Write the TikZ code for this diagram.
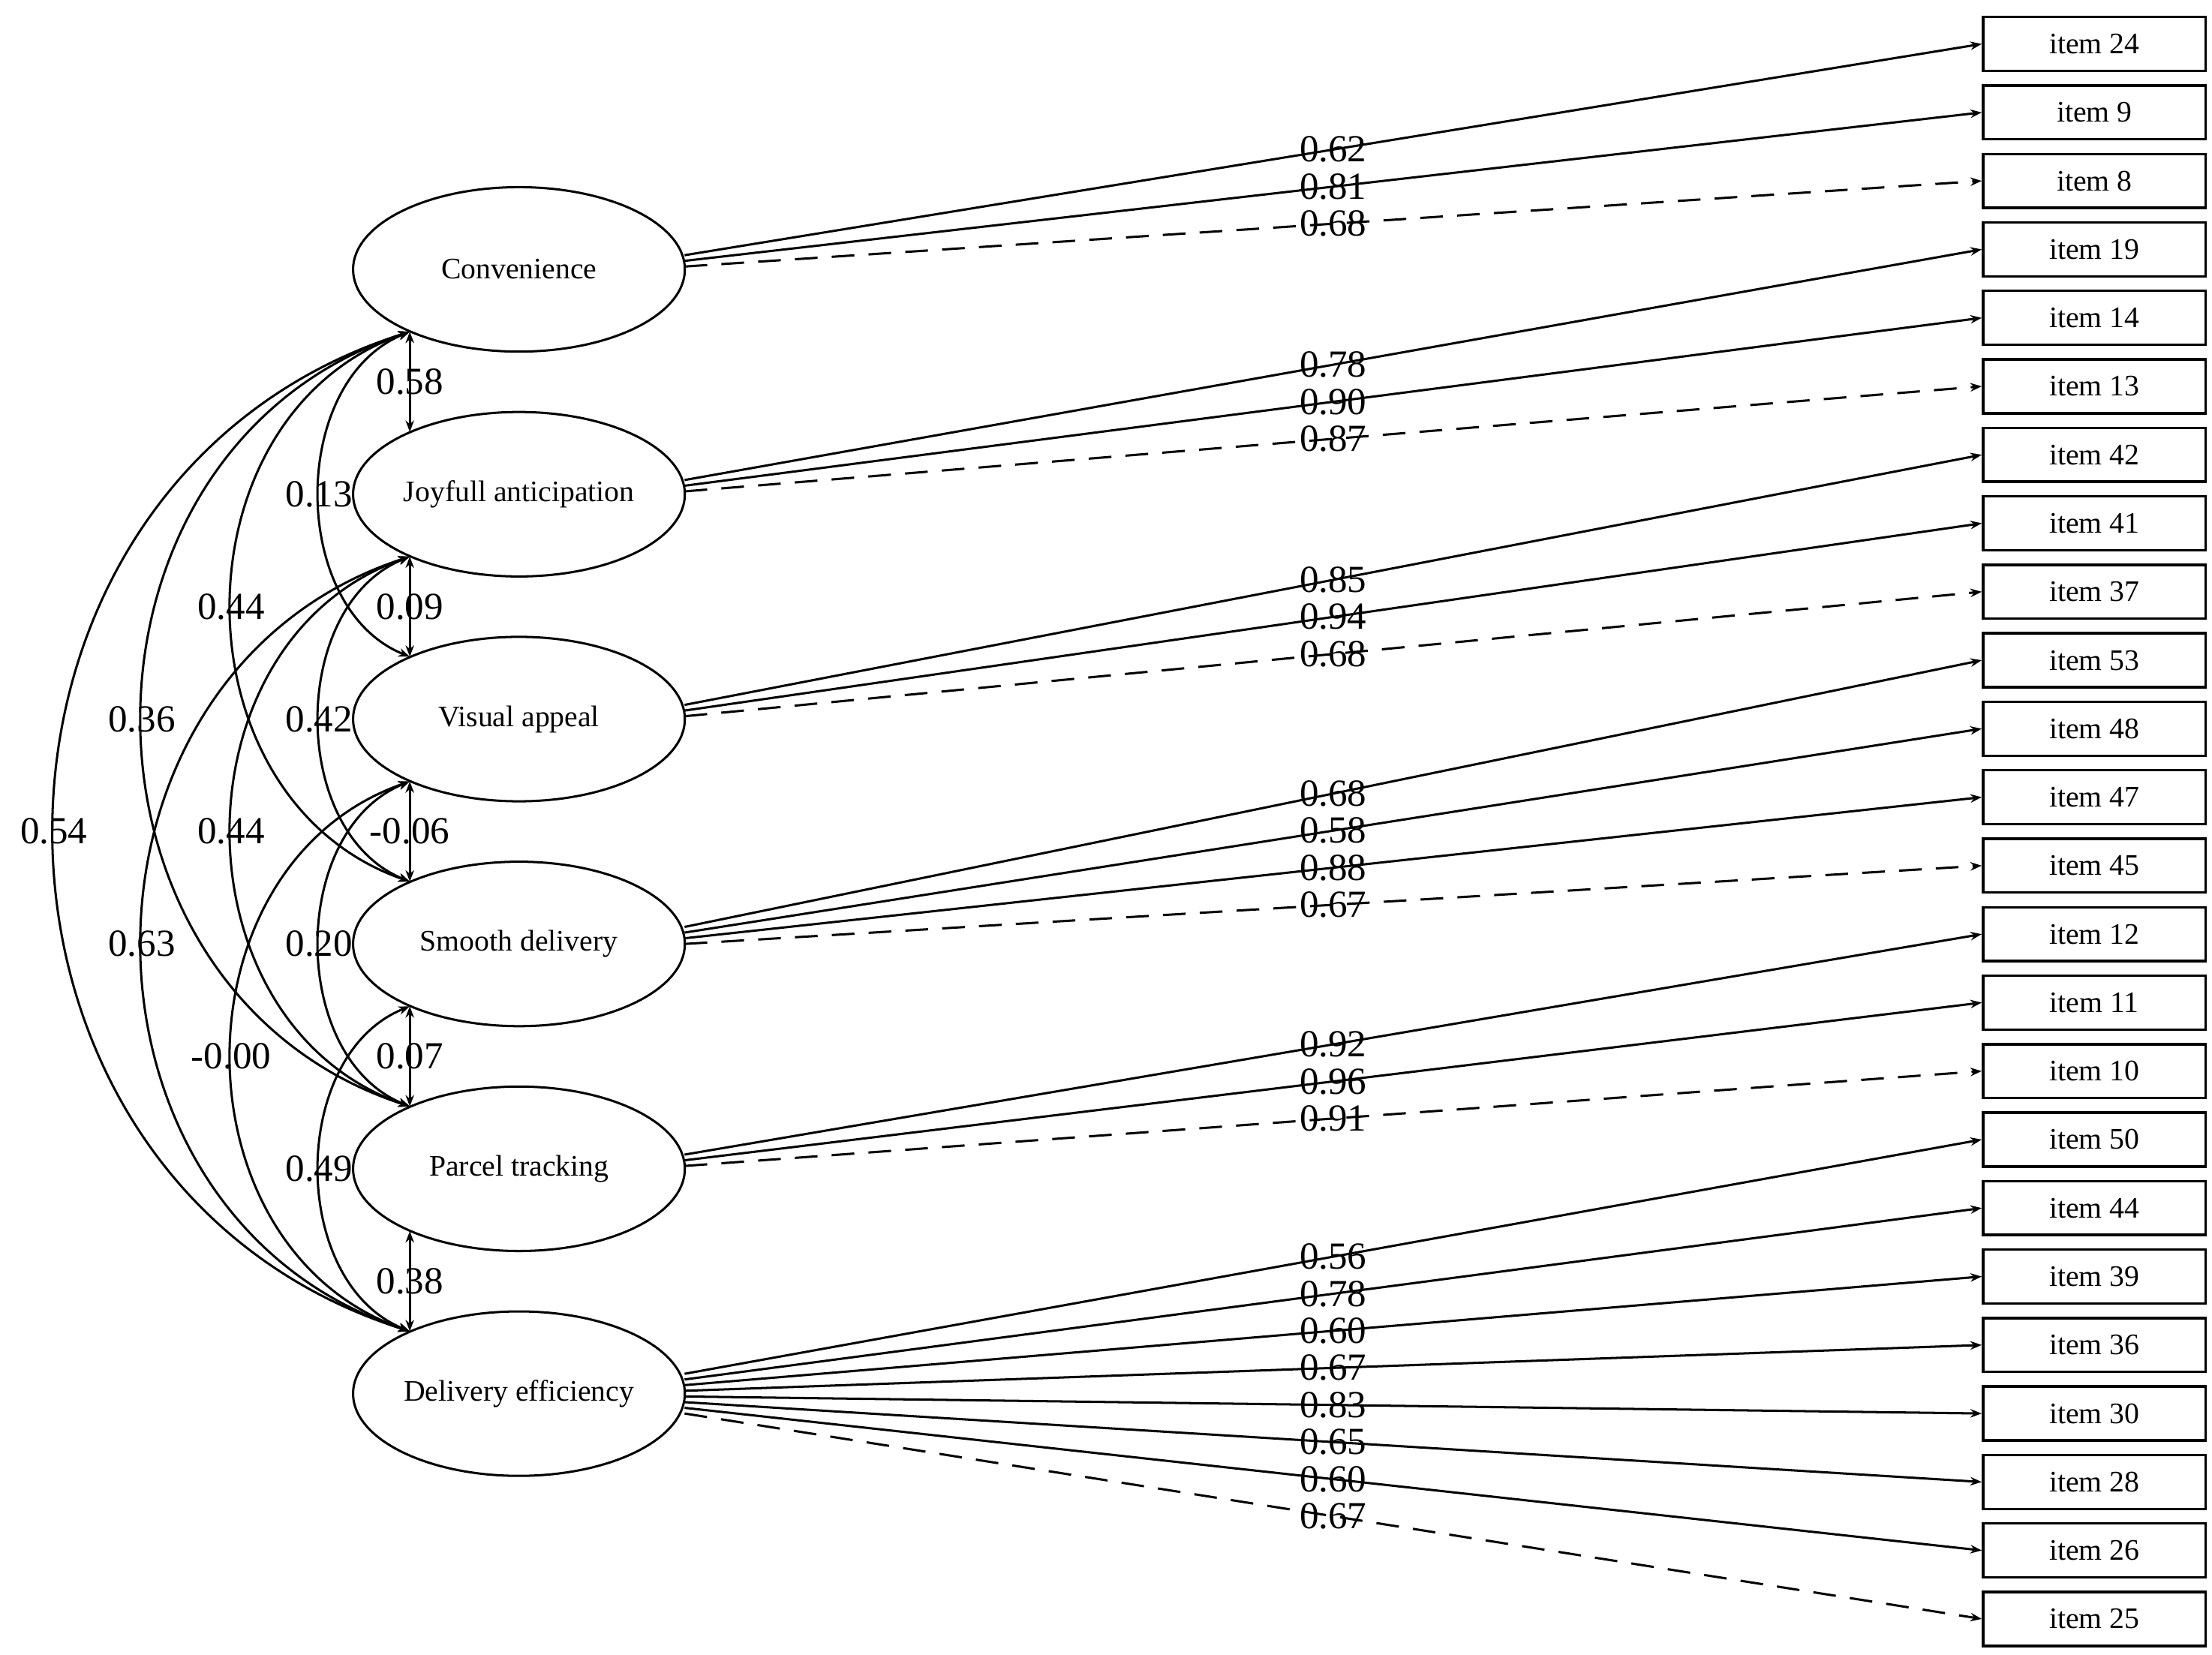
\documentclass[tikz,border=0pt]{standalone}
\usepackage{fontspec}
\setmainfont{Liberation Serif}
\usetikzlibrary{calc,arrows.meta,shapes.geometric}
\begin{document}
\begin{tikzpicture}[x=0.5pt,y=-0.5pt,
  lat/.style={draw,ellipse,line width=0.8pt,minimum width=117pt,minimum height=58pt,inner sep=0pt,font=\fontsize{10.5}{12}\selectfont},
  item/.style={draw,rectangle,line width=0.9pt,minimum width=78.5pt,minimum height=19pt,inner sep=0pt,font=\fontsize{10.5}{12}\selectfont},
  ld/.style={line width=0.8pt,-{Stealth[length=4pt,width=3pt]}},
  s/.style={solid},
  d/.style={dash pattern=on 8pt off 5pt},
  cv/.style={line width=0.8pt,{Stealth[length=4pt,width=3pt]}-{Stealth[length=4pt,width=3pt]}},
  num/.style={font=\fontsize{13.5}{15}\selectfont,inner sep=0pt}]
\useasboundingbox (0,0) rectangle (1560,1167);
% latent variables
\foreach \n/\t [count=\i from 0] in {L1/Convenience,L2/Joyfull anticipation,L3/Visual appeal,L4/Smooth delivery,L5/Parcel tracking,L6/Delivery efficiency}
  \node[lat] (\n) at (366,{190+158.6*\i}) {\t};
% items
\foreach \k [count=\i from 0] in {24,9,8,19,14,13,42,41,37,53,48,47,45,12,11,10,50,44,39,36,30,28,26,25}
  \node[item] (i\k) at (1477,{31+48.3*\i}) {item \k};
% loadings
\foreach \l/\k/\v/\s/\o in {L1/24/0.62/s/-10,L1/9/0.81/s/-6,L1/8/0.68/d/-2,
  L2/19/0.78/s/-10,L2/14/0.90/s/-6,L2/13/0.87/d/-2,
  L3/42/0.85/s/-10,L3/41/0.94/s/-6,L3/37/0.68/d/-2,
  L4/53/0.68/s/-12,L4/48/0.58/s/-8,L4/47/0.88/s/-4,L4/45/0.67/d/0,
  L5/12/0.92/s/-10,L5/11/0.96/s/-6,L5/10/0.91/d/-2,
  L6/50/0.56/s/-14,L6/44/0.78/s/-10,L6/39/0.60/s/-6,L6/36/0.67/s/-2,L6/30/0.83/s/2,L6/28/0.65/s/6,L6/26/0.60/s/10,L6/25/0.67/d/14}
  \draw[ld,\s] ($(\l.east)+(-1,\o)$) -- node[num,pos=0.5]{\v} (i\k.west);
% covariance anchors
\foreach \n in {L1,L2,L3,L4,L5,L6}{
  \coordinate (\n b) at ($(\n.center)+(-77,44)$);
  \coordinate (\n t) at ($(\n.center)+(-77,-44)$);
}
% adjacent covariances
\foreach \a/\b/\v in {L1/L2/0.58,L2/L3/0.09,L3/L4/-0.06,L4/L5/0.07,L5/L6/0.38}
  \draw[cv] (\a b) -- node[num,pos=0.5]{\v} (\b t);
% curved covariances
\foreach \a/\b/\xl/\v in {L1/L3/225/0.13,L1/L4/163/0.44,L1/L5/100/0.36,L1/L6/38/0.54,
  L2/L4/225/0.42,L2/L5/163/0.44,L2/L6/100/0.63,
  L3/L5/225/0.20,L3/L6/163/-0.00,L4/L6/225/0.49}{
  \pgfmathsetmacro{\cx}{(\xl-0.25*289)/0.75}
  \draw[cv] (\a b) .. controls ($(\a b)!0.15!(\b t)+(\cx-289,0)$) and ($(\a b)!0.85!(\b t)+(\cx-289,0)$) .. (\b t)
    node[num,pos=0.5]{\v};
}
\end{tikzpicture}
\end{document}
